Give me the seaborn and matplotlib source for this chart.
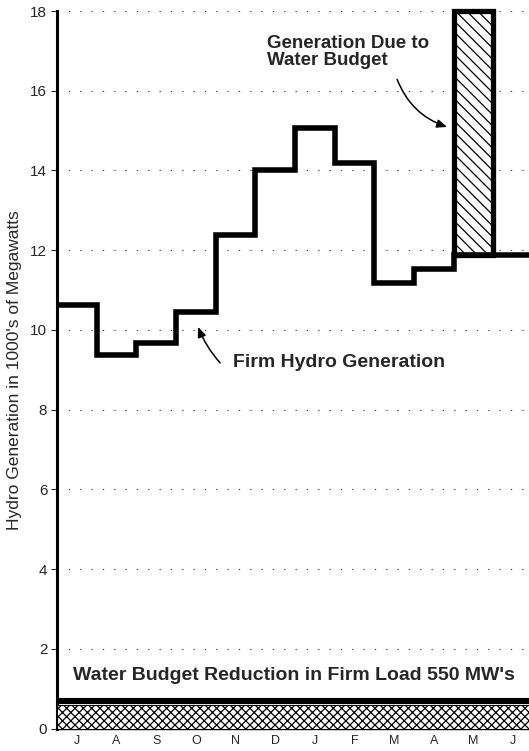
import matplotlib
matplotlib.use("Agg")
import matplotlib.pyplot as plt
import seaborn as sns
import pandas as pd
import numpy as np

months = ["J", "A", "S", "O", "N", "D", "J", "F", "M", "A", "M", "J"]
firm_hydro = [10.62, 9.38, 9.68, 10.46, 12.37, 14.02, 15.07, 14.19, 11.17, 11.54, 11.89, 11.89]
budget_month = 10
budget_top = 18.0
reduction = 0.6
yticks = [0, 2, 4, 6, 8, 10, 12, 14, 16, 18]

sns.set_style("white")
plt.rcParams["font.family"] = ["Liberation Sans", "DejaVu Sans"]
plt.rcParams["hatch.linewidth"] = 0.9

fig = plt.figure(figsize=(5.29, 7.51), dpi=100)
W, H = 529, 751
left, right, top, bottom = 57, 533, 11.0, 728.5
ax = fig.add_axes([left / W, (H - bottom) / H, (right - left) / W, (bottom - top) / H])

# step line
xs = list(range(len(firm_hydro))) + [len(firm_hydro)]
ys = firm_hydro + [firm_hydro[-1]]
df = pd.DataFrame({"month": xs, "gen": ys})
sns.lineplot(data=df, x="month", y="gen", drawstyle="steps-post", color="black",
             linewidth=4.0, ax=ax, solid_joinstyle="miter", zorder=5)

# water budget bar
ax.bar([budget_month], [budget_top - firm_hydro[budget_month]], bottom=[firm_hydro[budget_month]],
       width=1.0, align="edge", facecolor="white", edgecolor="black", linewidth=3.8,
       hatch="\\\\\\", zorder=4, clip_on=False)

# reduction band
ax.bar([0], [reduction], width=len(months), align="edge", facecolor="white",
       edgecolor="black", linewidth=0.8, hatch="xxxx", zorder=3)
ax.hlines(reduction + 0.08, 0, len(months), color="black", linewidth=4.4, zorder=6)

ax.set_xlim(0, 12)
ax.set_ylim(0, 18)
ax.set_yticks(yticks)
ax.set_yticklabels([str(v) for v in yticks], fontsize=11)
ax.set_xticks(np.arange(len(months)) + 0.5)
ax.set_xticklabels(months, fontsize=9)
ax.tick_params(axis="x", length=0, pad=5)
ax.tick_params(axis="y", length=4, width=0.8, direction="out", pad=3, left=True)
ax.set_xlabel("")
ax.set_ylabel("Hydro Generation in 1000's of Megawatts", fontsize=12.5, labelpad=6)

ax.grid(axis="y", color="#444444", linestyle=(0, (1.2, 9)), linewidth=0.8)
ax.grid(axis="x", visible=False)
for s in ["top", "right"]:
    ax.spines[s].set_visible(False)
ax.spines["left"].set_linewidth(2.2)
ax.spines["bottom"].set_linewidth(1.0)
ax.spines["left"].set_color("black")
ax.spines["bottom"].set_color("black")

ax.text(5.29, 16.97, "Generation Due to\nWater Budget", fontsize=13.5, fontweight="bold",
        ha="left", va="center", linespacing=1.0)
ax.annotate("", xy=(9.9, 15.07), xytext=(8.55, 16.35),
            arrowprops=dict(arrowstyle="-|>,head_length=0.6,head_width=0.25", color="black",
                            lw=1.1, connectionstyle="arc3,rad=0.25"))

ax.text(4.43, 9.19, "Firm Hydro Generation", fontsize=14, fontweight="bold",
        ha="left", va="center")
ax.annotate("", xy=(3.53, 10.14), xytext=(4.16, 9.12),
            arrowprops=dict(arrowstyle="-|>,head_length=0.6,head_width=0.25", color="black",
                            lw=1.1, connectionstyle="arc3,rad=-0.1"))

ax.text(0.4, 1.34, "Water Budget Reduction in Firm Load 550 MW's", fontsize=14,
        fontweight="bold", ha="left", va="center")

fig.savefig("out.png", dpi=100)
